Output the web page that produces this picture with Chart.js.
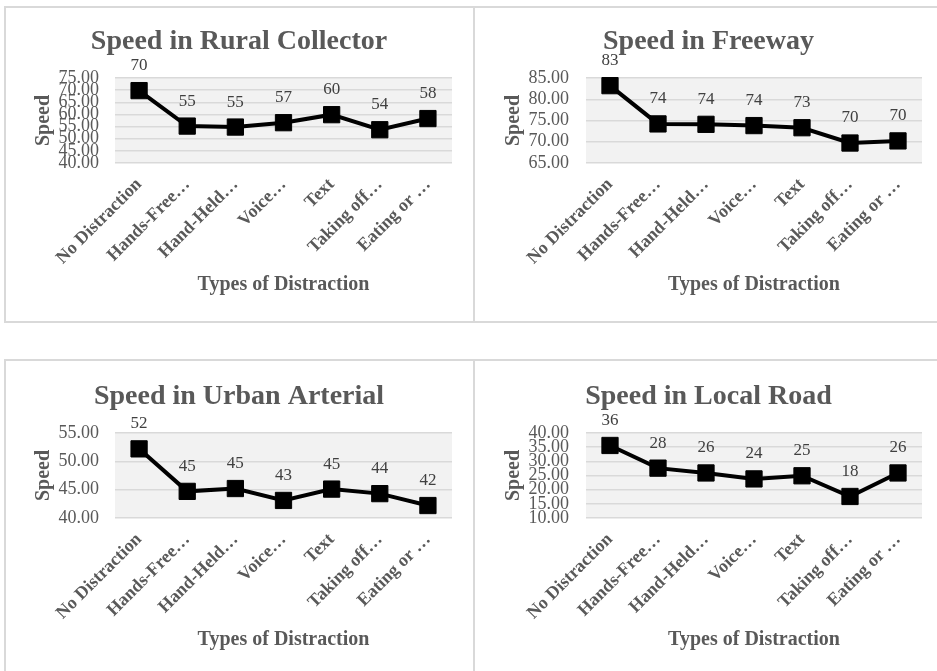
<!DOCTYPE html>
<html>
<head>
<meta charset="utf-8">
<title>Speed by Types of Distraction</title>
<script src="https://cdn.jsdelivr.net/npm/chart.js@4.4.1/dist/chart.umd.min.js"></script>
<style>
  html, body { margin: 0; padding: 0; background: #fff; overflow: hidden; }
  body { width: 937px; height: 671px; position: relative; }
  .panel { position: absolute; border: 2px solid #d9d9d9; box-sizing: border-box; }
  canvas { position: absolute; }
</style>
</head>
<body>
<div class="panel" style="left:4px;top:6px;width:471px;height:317px"></div>
<div class="panel" style="left:473px;top:6px;width:470px;height:317px"></div>
<div class="panel" style="left:4px;top:359px;width:471px;height:320px"></div>
<div class="panel" style="left:473px;top:359px;width:470px;height:320px"></div>

<canvas id="ruralChart" width="466" height="312" style="left:6px;top:8px"></canvas>
<canvas id="freewayChart" width="462" height="312" style="left:475px;top:8px"></canvas>
<canvas id="urbanChart" width="466" height="312" style="left:6px;top:363px"></canvas>
<canvas id="localChart" width="462" height="312" style="left:475px;top:363px"></canvas>

<script>
// Categories (as shown, truncated like the original)
const distractions = ["No Distraction", "Hands-Free…", "Hand-Held…", "Voice…", "Text", "Taking off…", "Eating or …"];

// Mean speed per road type
const ruralSpeed = [69.8, 55.2, 54.8, 56.6, 59.9, 53.7, 58.3];
const freewaySpeed = [83.2, 74.2, 74.1, 73.8, 73.3, 69.7, 70.2];
const urbanSpeed = [52.2, 44.7, 45.2, 43.1, 45.1, 44.3, 42.2];
const localSpeed = [35.6, 27.6, 25.9, 23.8, 24.9, 17.6, 25.9];

// Axis ranges [min, max]
const ruralRange = [40, 75];
const freewayRange = [65, 85];
const urbanRange = [40, 55];
const localRange = [10, 40];

const FONT = "'Liberation Serif', 'Times New Roman', serif";
const TEXT_GRAY = '#595959';

// Grey fill behind the plot area
const plotBackground = {
  id: 'plotBackground',
  beforeDraw(chart) {
    const { ctx, chartArea: a } = chart;
    ctx.save();
    ctx.fillStyle = '#f2f2f2';
    ctx.fillRect(a.left, a.top, a.right - a.left, a.bottom - a.top);
    ctx.restore();
  }
};

// Rounded value above every marker
const pointLabels = {
  id: 'pointLabels',
  afterDatasetsDraw(chart) {
    const ctx = chart.ctx;
    const meta = chart.getDatasetMeta(0);
    const values = chart.data.datasets[0].data;
    ctx.save();
    ctx.font = '17px ' + FONT;
    ctx.fillStyle = '#404040';
    ctx.textAlign = 'center';
    ctx.textBaseline = 'middle';
    meta.data.forEach((pt, i) => {
      ctx.fillText(Math.round(values[i]), pt.x, pt.y - 25);
    });
    ctx.restore();
  }
};

function makeChart(id, title, values, range, col) {
  const ctx = document.getElementById(id).getContext('2d');
  return new Chart(ctx, {
    type: 'line',
    data: {
      labels: distractions,
      datasets: [{
        label: 'Speed',
        data: values,
        borderColor: '#000',
        borderWidth: 4,
        pointStyle: 'rect',
        pointRadius: 11.5,
        pointBorderWidth: 1,
        pointBackgroundColor: '#000',
        pointBorderColor: '#000',
        tension: 0,
        clip: false
      }]
    },
    options: {
      responsive: false,
      animation: false,
      devicePixelRatio: 1,
      layout: { padding: { left: 20, right: col.padRight, top: 0, bottom: 23 } },
      plugins: {
        legend: { display: false },
        tooltip: { enabled: false },
        title: {
          display: true,
          text: title,
          color: TEXT_GRAY,
          font: { family: FONT, size: 28, weight: 'bold', lineHeight: 1.2 },
          padding: { top: 17, bottom: 19.4 }
        }
      },
      scales: {
        x: {
          offset: true,
          grid: { display: false, drawTicks: false },
          border: { display: false },
          ticks: {
            color: TEXT_GRAY,
            font: { family: FONT, size: 18, weight: 'bold' },
            minRotation: 45,
            maxRotation: 45,
            autoSkip: false,
            padding: 11
          },
          title: {
            display: true,
            text: 'Types of Distraction',
            color: TEXT_GRAY,
            font: { family: FONT, size: 20, weight: 'bold', lineHeight: 1.2 },
            padding: 0
          },
          afterFit(scale) { scale.height = 134; }
        },
        y: {
          min: range[0],
          max: range[1],
          grid: { color: '#d9d9d9', lineWidth: 1.5, drawTicks: false },
          border: { display: false },
          ticks: {
            stepSize: 5,
            autoSkip: false,
            color: TEXT_GRAY,
            font: { family: FONT, size: 18 },
            padding: col.tickPad,
            callback: v => v.toFixed(2)
          },
          title: {
            display: true,
            text: 'Speed',
            color: TEXT_GRAY,
            font: { family: FONT, size: 20, weight: 'bold', lineHeight: 1.2 },
            padding: { top: col.yTitlePad, bottom: 0 }
          },
          afterFit(scale) { scale.width = col.yWidth; }
        }
      }
    },
    plugins: [plotBackground, pointLabels]
  });
}

const leftCol = { padRight: 20, yWidth: 89, yTitlePad: 6, tickPad: 16 };
const rightCol = { padRight: 15, yWidth: 91, yTitlePad: 7, tickPad: 17 };

makeChart('ruralChart', 'Speed in Rural Collector', ruralSpeed, ruralRange, leftCol);
makeChart('freewayChart', 'Speed in Freeway', freewaySpeed, freewayRange, rightCol);
makeChart('urbanChart', 'Speed in Urban Arterial', urbanSpeed, urbanRange, leftCol);
makeChart('localChart', 'Speed in Local Road', localSpeed, localRange, rightCol);
</script>
</body>
</html>
